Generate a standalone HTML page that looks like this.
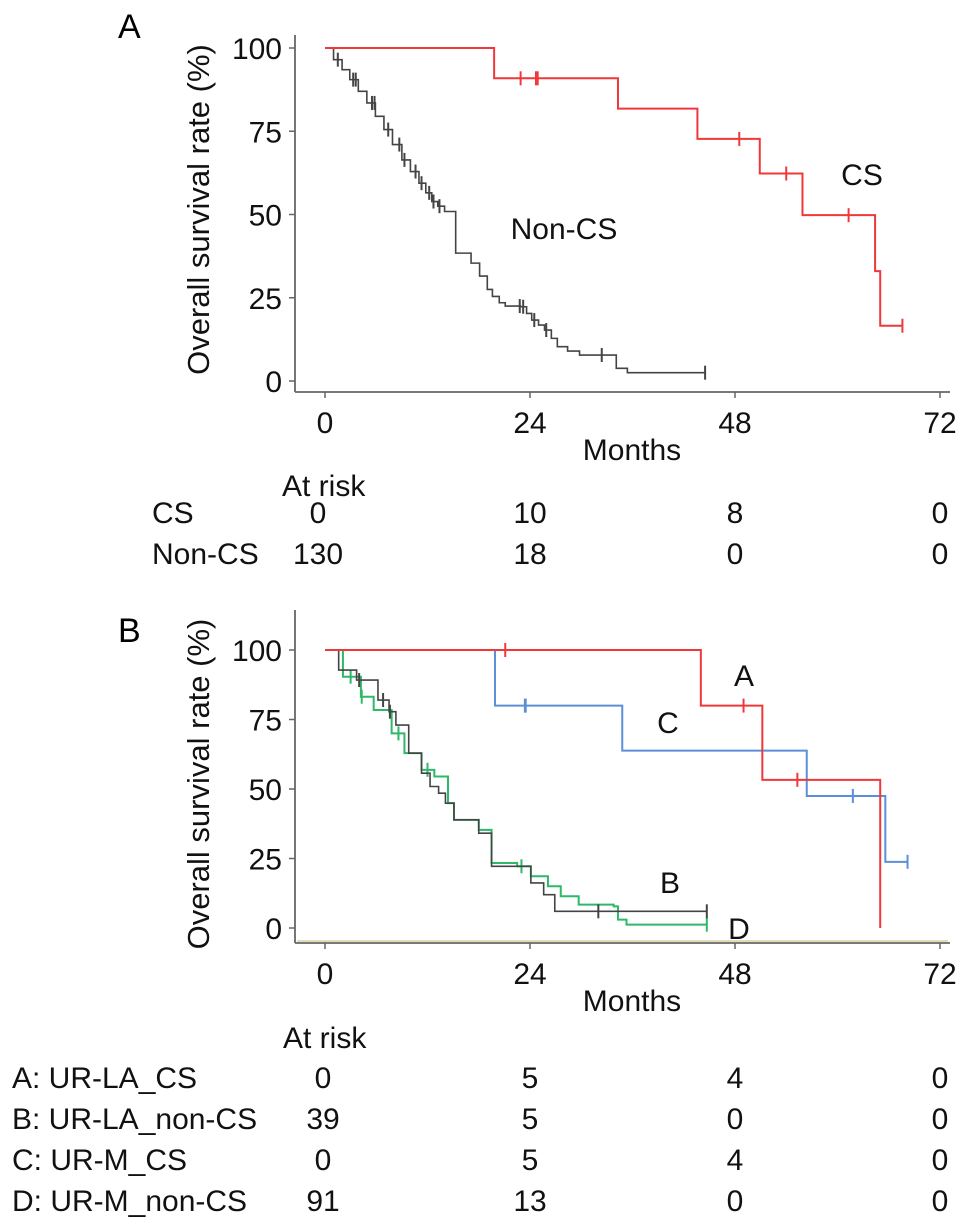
<!DOCTYPE html>
<html><head><meta charset="utf-8"><style>
html,body{margin:0;padding:0;background:#fff;}
svg{display:block;font-family:"Liberation Sans",Arial,sans-serif;}
</style></head><body>
<svg id="fig" width="969" height="1225" viewBox="0 0 969 1225">
<text x="118" y="38" font-size="34">A</text>
<text x="118" y="642" font-size="34">B</text>
</svg>
<script>
// ---------- Panel A data ----------
const aCsTimes = [0, 19.8, 34.3, 43.6, 50.9, 55.9, 64.4, 65.0, 67.6];
const aCsSurv  = [100, 90.9, 81.8, 72.7, 62.3, 49.8, 33.0, 16.6, 16.6];
const aCsCens  = [22.9, 24.7, 24.9, 48.5, 54.0, 61.3, 67.6];
const aNonTimes = [0,1.0,2.0,2.9,3.9,4.9,5.9,6.9,7.9,9.0,10.0,11.0,11.8,12.5,13.2,14.0,15.3,17.1,18.1,19.0,19.6,20.4,21.1,22.9,23.6,24.2,25.0,25.7,26.5,27.2,28.4,29.8,33.6,34.1,35.4,44.5];
const aNonSurv  = [100,96.5,93.5,90.5,87,83.5,79.5,75.5,71,66.4,62.9,59.4,56.5,53.9,52.5,50.9,38.4,35.4,31.5,27.5,25.4,23.5,22.5,22.3,20.3,18.3,16.8,15.3,12.8,10.3,9.0,7.8,7.8,3.8,2.5,2.5];
const aNonCens  = [1.5,3.3,3.6,5.5,5.8,7.4,8.7,9.3,10.6,11.3,12.2,12.7,13.4,22.8,23.2,24.5,25.9,32.4,44.5];
const aTicksX = [0,24,48,72];
const aTicksY = [0,25,50,75,100];
// ---------- Panel B data ----------
const bATimes = [0, 44.0, 51.2, 65.0, 65.0];
const bASurv  = [100, 80, 53.3, 0, 0];
const bACens  = [21.1, 49.0, 55.3];
const bCTimes = [0, 19.9, 34.8, 56.4, 65.6, 68.2];
const bCSurv  = [100, 80, 63.8, 47.5, 23.8, 23.8];
const bCCens  = [23.4, 23.5, 61.8, 68.2];
const bBTimes = [0,1.6,3.7,6.2,7.5,8.3,9.8,11.3,12.3,13.3,14.1,15.1,18.0,19.5,23.0,24.1,25.6,26.9,44.7];
const bBSurv  = [100,92.8,89.2,82,77.8,73,62.9,55.7,50.9,48.5,44.9,38.9,34.1,22.2,22.2,16.2,12.0,6.0,6.0];
const bBCens  = [4.0,6.8,7.6,32.0,44.7];
const bDTimes = [0,2.1,4.2,5.7,7.8,9.3,11.3,12.8,14.4,15.1,18.0,19.5,22.5,24.1,26.1,27.6,29.7,33.8,34.3,35.3,44.7];
const bDSurv  = [100,90.4,83.2,78.4,70,62.9,56.9,54.5,44.9,38.9,35.3,23.4,22.2,18.6,15,11.4,8.4,7.8,3,1.2,1.2];
const bDCens  = [3.0,4.3,8.6,12.0,23.0,44.7];
// ---------- At risk ----------
const riskCols = [0,24,48,72];
const riskA_CS = ["0","10","8","0"];
const riskA_Non = ["130","18","0","0"];
const riskB = [["0","5","4","0"],["39","5","0","0"],["0","5","4","0"],["91","13","0","0"]];
const riskBLabels = ["A: UR-LA_CS","B: UR-LA_non-CS","C: UR-M_CS","D: UR-M_non-CS"];

const FS=30;
const NS="http://www.w3.org/2000/svg";
const svg=document.getElementById('fig');
function el(tag,attrs,parent){const e=document.createElementNS(NS,tag);for(const k in attrs)e.setAttribute(k,attrs[k]);(parent||svg).appendChild(e);return e;}
function xs(m){return 325+m*(615/72);}
function makeY(y100,y0){return v=>y0-(y0-y100)*v/100;}

function axes(ys,axisY,yTop,name){
  const g=el('g',{});
  
  
  el('line',{x1:295,y1:yTop,x2:295,y2:axisY,stroke:'#666','stroke-width':1.8},g);
  el('line',{x1:295,y1:axisY,x2:950,y2:axisY,stroke:'#666','stroke-width':1.8},g);
  aTicksY.forEach(v=>{
    el('line',{x1:289,y1:ys(v),x2:295,y2:ys(v),stroke:'#666','stroke-width':1.5},g);
    const t=el('text',{x:282,y:ys(v)+11,'font-size':FS,'text-anchor':'end',fill:'#111'},g);
    t.textContent=v;
    
    
  });
  aTicksX.forEach(v=>{
    el('line',{x1:xs(v),y1:axisY,x2:xs(v),y2:axisY+6,stroke:'#666','stroke-width':1.5},g);
    const t=el('text',{x:xs(v),y:axisY+41,'font-size':FS,'text-anchor':'middle',fill:'#111'},g);
    t.textContent=v;
    
    
  });
  const mt=el('text',{x:632,y:axisY+68,'font-size':FS,'text-anchor':'middle',fill:'#111'},g);
  mt.textContent='Months';
  
  
  const cy=(ys(0)+ys(100))/2-5;
  const yt=el('text',{x:0,y:0,'font-size':31,'text-anchor':'middle',fill:'#111',transform:`translate(209,${cy}) rotate(-90)`},g);
  yt.textContent='Overall survival rate (%)';
  
  
}
function curve(times,surv,cens,ys,color,name,w){
  let d=`M${xs(times[0])},${ys(surv[0])}`;
  for(let i=1;i<times.length;i++){d+=` H${xs(times[i])} V${ys(surv[i])}`;}
  const p=el('path',{d:d,fill:'none',stroke:color,'stroke-width':w||2});
  
  
  cens.forEach(c=>{
    let s=surv[0];
    for(let i=0;i<times.length;i++){if(times[i]<=c)s=surv[i];}
    const m=el('line',{x1:xs(c),y1:ys(s)-7,x2:xs(c),y2:ys(s)+7,stroke:color,'stroke-width':2});
    
    
  });
}
function label(x,y,txt,name,anchor){
  const t=el('text',{x:x,y:y,'font-size':FS,'text-anchor':anchor||'start',fill:'#111'});
  t.textContent=txt;
  
  
}
// Panel A
const ysA=makeY(48,381);
axes(ysA,392,35,'panel-a');
curve(aNonTimes,aNonSurv,aNonCens,ysA,'#444','non-cs',1.6);
curve(aCsTimes,aCsSurv,aCsCens,ysA,'#f0383a','cs',2);
label(564,239,'Non-CS','non-cs-label','middle');
label(862,185,'CS','cs-label','middle');
label(282,496,'At risk','at-risk-title-a');
label(152,523,'CS','risk-row-cs');
label(152,564,'Non-CS','risk-row-non-cs');
riskCols.forEach((m,i)=>{
  label(xs(m)-(i==0?7:0),523,riskA_CS[i],'risk-value-cs','middle');
  label(xs(m)-(i==0?7:0),564,riskA_Non[i],'risk-value-non-cs','middle');
});
// Panel B
const ysB=makeY(650,928);
axes(ysB,943,610,'panel-b');
el('line',{x1:297,y1:941,x2:948,y2:941,stroke:'#d8d2a0','stroke-width':1.5});
curve(bDTimes,bDSurv,bDCens,ysB,'#2eb86a','ur-m-non-cs',2);
curve(bBTimes,bBSurv,bBCens,ysB,'#444','ur-la-non-cs',1.6);
curve(bCTimes,bCSurv,bCCens,ysB,'#5b8fd8','ur-m-cs',2);
curve(bATimes,bASurv,bACens,ysB,'#f0383a','ur-la-cs',2);
label(744,686,'A','curve-a-label','middle');
label(668,733,'C','curve-c-label','middle');
label(670,893,'B','curve-b-label','middle');
label(739,939,'D','curve-d-label','middle');
label(283,1048,'At risk','at-risk-title-b');
const rowY=[1088,1129,1170,1211];
riskBLabels.forEach((l,r)=>{
  label(12,rowY[r],l,'risk-row-label');
  riskCols.forEach((m,i)=>label(xs(m)-(i==0?2:0),rowY[r],riskB[r][i],'risk-value','middle'));
});
</script>
</body></html>
